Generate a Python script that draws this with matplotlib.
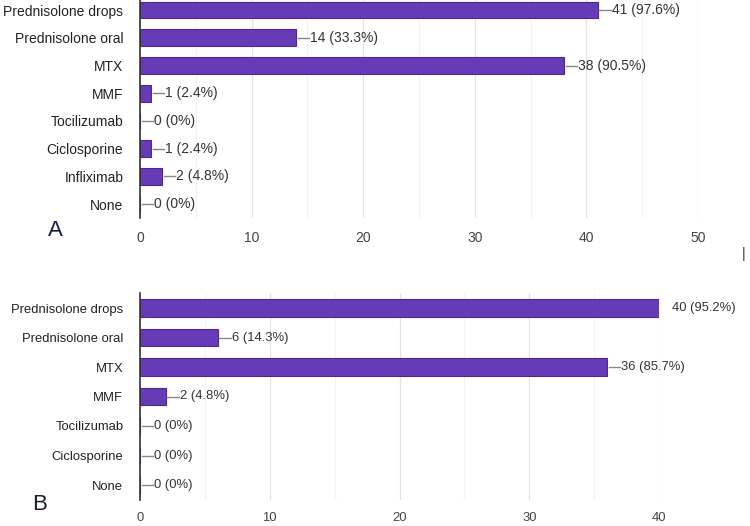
import matplotlib.pyplot as plt
import numpy as np

plt.rcParams['font.family'] = ['Liberation Sans', 'DejaVu Sans']

# panel A
cats_a = ["Prednisolone drops", "Prednisolone oral", "MTX", "MMF",
          "Tocilizumab", "Ciclosporine", "Infliximab", "None"]
vals_a = [41, 14, 38, 1, 0, 1, 2, 0]
pcts_a = ["97.6%", "33.3%", "90.5%", "2.4%", "0%", "2.4%", "4.8%", "0%"]
ticks_a = [0, 10, 20, 30, 40, 50]

# panel B
cats_b = ["Prednisolone drops", "Prednisolone oral", "MTX", "MMF",
          "Tocilizumab", "Ciclosporine", "None"]
vals_b = [40, 6, 36, 2, 0, 0, 0]
pcts_b = ["95.2%", "14.3%", "85.7%", "4.8%", "0%", "0%", "0%"]
ticks_b = [0, 10, 20, 30, 40]

bar_color = '#673ab7'
edge_color = '#4a2a8a'
text_color = '#333333'


def draw_panel(ax, cats, vals, pcts, ticks, fs):
    xmax = ticks[-1]
    y = np.arange(len(cats))
    ax.barh(y, vals, height=0.6, color=bar_color, edgecolor=edge_color,
            linewidth=0.8, zorder=3)
    ax.set_ylim(len(cats) - 0.5, -0.5)
    ax.set_xlim(0, xmax)
    ax.set_yticks(y)
    ax.set_yticklabels(cats, fontsize=fs, color='#222222')
    ax.set_xticks(ticks)
    ax.set_xticklabels([str(t) for t in ticks], fontsize=fs, color='#444444')
    ax.tick_params(axis='y', length=0, pad=12)
    ax.tick_params(axis='x', length=0, pad=9)
    for t in np.arange(5, xmax + 1, 10):
        ax.axvline(t, color='#f3f3f3', lw=0.8, zorder=1)
    for t in ticks[1:]:
        ax.axvline(t, color='#e4e4e4', lw=0.9, zorder=1)
    for s in ['top', 'right', 'bottom']:
        ax.spines[s].set_visible(False)
    ax.axhline(len(cats) - 0.5, color='#eeeeee', lw=0.8, zorder=1)
    ax.spines['left'].set_color('#333333')
    ax.spines['left'].set_linewidth(1.2)
    ax.spines['left'].set_zorder(4)

    # one pixel in data units
    unit = xmax / (ax.get_position().width * 750)
    for yi, v, p in zip(y, vals, pcts):
        label = f"{v} ({p})"
        if v >= xmax:
            ax.text(v + 13 * unit, yi, label, va='center', ha='left',
                    fontsize=fs, color=text_color, clip_on=False)
        else:
            x0 = v + 1.5 * unit
            x1 = v + 13 * unit
            ax.plot([x0, x1], [yi, yi], color='#888888', lw=1.0,
                    clip_on=False, zorder=3)
            ax.text(x1 + 1 * unit, yi, label, va='center', ha='left',
                    fontsize=fs, color=text_color, clip_on=False)


fig = plt.figure(figsize=(7.5, 5.26), dpi=100)

ax_a = fig.add_axes([140 / 750, 1 - 218 / 526, 558 / 750, 221.8 / 526])
draw_panel(ax_a, cats_a, vals_a, pcts_a, ticks_a, 10)

ax_b = fig.add_axes([140 / 750, 1 - 499.75 / 526, 519 / 750, 206.5 / 526])
draw_panel(ax_b, cats_b, vals_b, pcts_b, ticks_b, 9.4)

fig.text(55 / 750, 1 - 230 / 526, "A", fontsize=16, color='#1a1a3a',
         ha='center', va='center')
fig.text(40 / 750, 1 - 504 / 526, "B", fontsize=16, color='#1a1a3a',
         ha='center', va='center')
fig.text(744 / 750, 1 - 254 / 526, "|", fontsize=10, color='#333333',
         ha='center', va='center')

fig.savefig("out.png", dpi=100)
